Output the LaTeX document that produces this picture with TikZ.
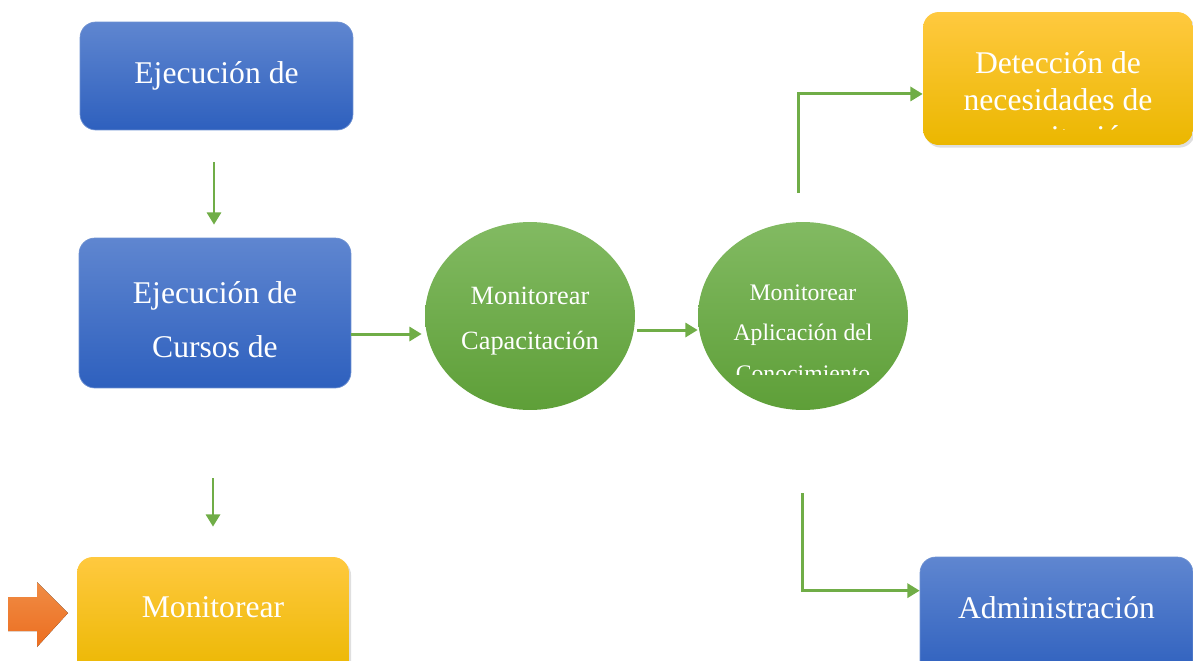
\documentclass[tikz,border=0pt]{standalone}
\usepackage{fontspec}
\setmainfont{Liberation Serif}
\usetikzlibrary{arrows.meta, positioning, shadows, shapes.geometric}

\definecolor{flowGreen}{HTML}{70AD47}
\definecolor{blueTop}{HTML}{5F86D0}
\definecolor{blueBot}{HTML}{2E60BE}
\definecolor{goldTop}{HTML}{FFC93F}
\definecolor{goldMid}{HTML}{FFC400}
\definecolor{goldBot}{HTML}{EBB700}
\definecolor{leafTop}{HTML}{82BA62}
\definecolor{leafBot}{HTML}{5E9F38}
\definecolor{pointTop}{HTML}{F08C45}
\definecolor{pointBot}{HTML}{EC6E20}

\tikzset{
  flow/.style={flowGreen, line width=1.7pt, -{Triangle[length=7pt, width=8pt]}},
  bluebox/.style={rectangle, rounded corners=9pt, top color=blueTop, bottom color=blueBot,
    draw=blueBot!70, line width=0.4pt, text=white, align=center},
  goldbox/.style={rectangle, rounded corners=9pt, top color=goldTop, middle color=goldMid,
    bottom color=goldBot, text=white, align=center,
    drop shadow={shadow xshift=1.2pt, shadow yshift=-1.5pt, opacity=0.25}},
  leaf/.style={ellipse, top color=leafTop, bottom color=leafBot, text=white, align=center,
    minimum width=4.2cm, minimum height=3.76cm, inner sep=0pt},
  boxtext/.style={text=white, align=center, font=\fontsize{18}{21}\selectfont}
}

\begin{document}
\begin{tikzpicture}[x=0.02cm, y=-0.02cm]
  \useasboundingbox (0,0) rectangle (1193,660);
  \clip (0,0) rectangle (1193,660);

  %% --- left column ---
  \node[bluebox, minimum width=5.46cm, minimum height=2.16cm,
    font=\fontsize{18}{21}\selectfont] (ejec) at (216.5,76) {Ejecución de};
  \node[bluebox, minimum width=5.44cm, minimum height=3.0cm] (cursos) at (215,313) {};
  \node[boxtext, font=\fontsize{18}{30.6}\selectfont] (cursostxt) at (215,320)
    {Ejecución de\\Cursos de};
  \node[goldbox, minimum width=5.44cm, minimum height=2.4cm] (monit) at (213,617) {};
  \node[boxtext] (monittxt) at (213,607) {Monitorear};

  %% --- orange pointer ---
  \fill[top color=pointTop, bottom color=pointBot]
    (8,597) -- (37,597) -- (37,582) -- (68,613) -- (37,647) -- (37,631) -- (8,631) -- cycle;

  %% --- monitoring circles ---
  \node[leaf] (mon1) at (530,316) {};
  \node[text=white, align=center, font=\fontsize{15}{26}\selectfont] (mon1txt)
    at (530,321) {Monitorear\\Capacitación};
  \node[leaf] (mon2) at (803,316) {};
  \begin{scope}
    \clip (690,222) rectangle (920,374);
    \node[text=white, align=center, font=\fontsize{13.5}{23}\selectfont] (mon2txt)
      at (803,333) {Monitorear\\Aplicación del\\Conocimiento};
  \end{scope}

  %% --- right column ---
  \node[goldbox, minimum width=5.4cm, minimum height=2.66cm] (detect) at (1058,78.5) {};
  \begin{scope}
    \clip (923,12) rectangle (1193,129);
    \node[boxtext] (detecttxt) at (1058,103) {Detección de\\necesidades de\\capacitación};
  \end{scope}
  \node[bluebox, minimum width=5.46cm, minimum height=2.4cm] (admin) at (1056.5,617) {};
  \node[boxtext] (admintxt) at (1056.5,608) {Administración};

  %% --- connectors ---
  \coordinate (colA) at (214,0);
  \coordinate (colB) at (213,0);
  \coordinate (lvlA) at (0,334);
  \coordinate (lvlB) at (0,330);
  \coordinate (upstart) at (798,193);
  \coordinate (downstart) at (802,493);

  \draw[flow, shorten <=0.64cm, shorten >=0.26cm] (colA |- ejec.south) -- (colA |- cursos.north);
  \draw[flow, shorten <=1.8cm, shorten >=0.6cm] (colB |- cursos.south) -- (colB |- monit.north);
  \draw[flow, shorten >=0.06cm] (cursos.east |- lvlA) -- (mon1.west |- lvlA);
  \draw[flow, shorten <=0.04cm] (mon1.east |- lvlB) -- (mon2.west |- lvlB);
  \draw[flow] (upstart) |- ([yshift=-8.8pt]detect.west);
  \draw[flow] (downstart) |- ([yshift=15pt]admin.west);
\end{tikzpicture}
\end{document}
